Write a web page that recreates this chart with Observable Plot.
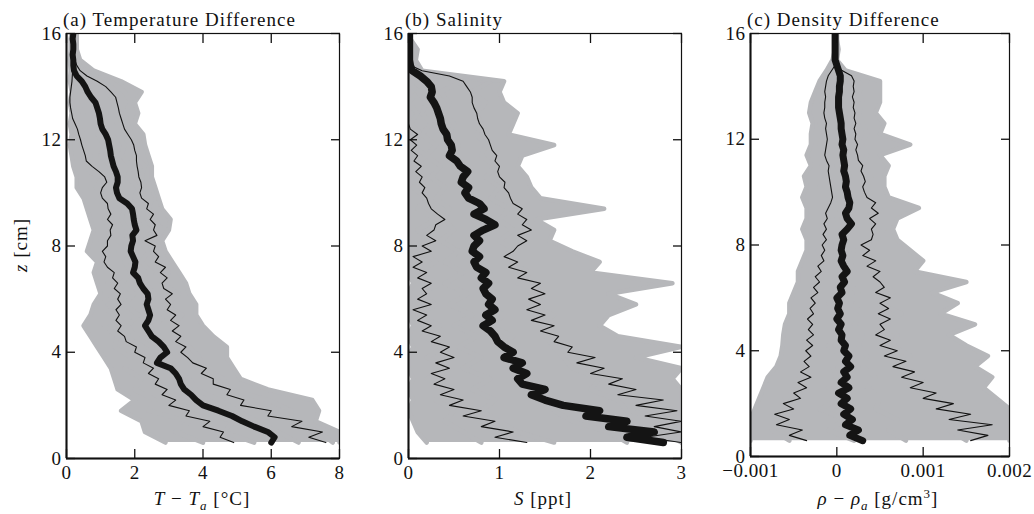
<!DOCTYPE html>
<html><head><meta charset="utf-8">
<script src="https://cdn.jsdelivr.net/npm/d3@7"></script>
<script src="https://cdn.jsdelivr.net/npm/@observablehq/plot@0.6"></script>
<style>
body{margin:0;background:#fff;}
#wrap{position:relative;width:1034px;height:514px;font-family:"Liberation Serif",serif;color:#111;overflow:hidden;}
.panel{position:absolute;top:0;letter-spacing:0.5px;}
.txt{position:absolute;font-size:19px;line-height:1;white-space:nowrap;letter-spacing:1px;}
.ctr{transform:translateX(-50%);}
sub,sup{font-size:13px;line-height:0;}
</style></head><body><div id="wrap"></div>
<script>
// depth grids (cm)
const zFine = [0.6,0.8,1.0,1.2,1.4,1.6,1.8,2.0,2.2,2.4,
 2.6,2.8,3.0,3.2,3.4,3.6,3.8,4.0,4.2,4.4,
 4.6,4.8,5.0,5.2,5.4,5.6,5.8,6.0,6.2,6.4,
 6.6,6.8,7.0,7.2,7.4,7.6,7.8,8.0,8.2,8.4,
 8.6,8.8,9.0,9.2,9.4,9.6,9.8,10.0,10.2,10.4,
 10.6,10.8,11.0,11.2,11.4,11.6,11.8,12.0,12.2,12.4,
 12.6,12.8,13.0,13.2,13.4,13.6,13.8,14.0,14.2,14.4,
 14.6,14.8,15.0,15.2,15.4,15.6,15.8,16.0];
const zCoarse = [0.6,1.0,1.4,1.8,2.2,2.6,3.0,3.4,3.8,4.2,
 4.6,5.0,5.4,5.8,6.2,6.6,7.0,7.4,7.8,8.2,
 8.6,9.0,9.4,9.8,10.2,10.6,11.0,11.4,11.8,12.2,
 12.6,13.0,13.4,13.8,14.2,14.6,15.0,15.4,15.8,16.0];

// (a) temperature difference, °C
const tempMean = [6.0,6.1,5.9,5.5,5.15,4.85,4.45,4.0,3.8,3.65,
 3.45,3.35,3.3,3.2,3.05,2.65,2.75,2.95,2.85,2.7,
 2.5,2.4,2.3,2.4,2.45,2.4,2.35,2.4,2.38,2.25,
 2.15,2.1,1.95,2.0,2.02,1.95,1.88,1.9,1.95,1.93,
 2.05,2.0,1.97,1.95,1.92,1.78,1.55,1.48,1.45,1.5,
 1.5,1.45,1.38,1.34,1.3,1.28,1.25,1.22,1.15,1.05,
 1.0,0.98,0.95,0.9,0.85,0.72,0.62,0.55,0.45,0.3,
 0.22,0.2,0.2,0.18,0.2,0.2,0.18,0.2];
const tempHi = [7.6,7.1,7.5,6.6,6.9,5.9,6.0,5.1,5.2,4.7,
 4.8,4.3,4.3,3.95,4.1,3.7,3.55,3.35,3.5,3.2,
 3.35,3.1,3.3,3.05,3.2,2.95,3.05,2.9,3.1,2.85,
 2.8,2.95,2.75,2.9,2.6,2.7,2.55,2.6,2.3,2.65,
 2.55,2.6,2.45,2.55,2.35,2.4,2.2,2.15,2.2,2.18,
 2.12,2.1,2.07,2.05,2.05,2.0,1.97,1.9,1.8,1.7,
 1.65,1.6,1.55,1.52,1.48,1.44,1.3,1.15,0.9,0.6,
 0.4,0.3,0.25,0.22,0.2,0.2,0.2,0.2];
const tempLo = [4.9,4.5,4.6,4.0,4.2,3.5,3.6,3.0,3.2,2.8,
 2.95,2.6,2.7,2.4,2.55,2.25,2.3,2.0,2.05,1.75,
 1.7,1.5,1.6,1.45,1.55,1.45,1.6,1.5,1.58,1.4,
 1.5,1.35,1.4,1.2,1.1,1.15,1.05,1.2,1.2,1.3,
 1.28,1.35,1.2,1.3,1.22,1.2,1.05,1.0,1.05,1.18,
 1.12,0.95,0.75,0.58,0.55,0.5,0.45,0.41,0.36,0.32,
 0.25,0.18,0.15,0.12,0.1,0.1,0.12,0.14,0.16,0.17,
 0.18,0.2,0.2,0.2,0.2,0.2,0.2,0.2];
const tempGray = [
 [2.9,2.3,2.2,1.6,2.0,1.5,1.4,1.3,1.1,0.9, 0.7,0.5,0.7,0.8,1.0,0.9,0.8,0.9,0.6,0.7, 0.8,0.7,0.6,0.5,0.3,0.3,0.2,0.15,0.1,0.15, 0.1,0.15,0.1,0.15,0.1,0.12,0.1,0.12,0.12,0.15],
 [4.0,3.2,3.6,2.4,2.6,2.0,2.2,1.7,1.9,1.4, 1.5,1.1,1.4,1.0,1.5,1.2,1.5,1.1,1.4,1.0, 1.3,1.1,1.3,0.9,0.7,0.9,0.5,0.7,0.4,0.5, 0.3,0.5,0.3,0.4,0.25,0.15,0.15,0.2,0.15,0.2],
 [5.5,4.6,4.9,3.8,3.5,2.9,2.6,2.4,2.2,2.5, 2.0,1.8,2.1,1.7,2.0,1.6,1.9,1.7,1.9,1.5, 1.8,1.6,1.7,1.3,1.5,1.2,1.3,1.0,1.1,0.9, 1.0,0.8,0.9,0.7,0.5,0.25,0.2,0.2,0.18,0.2],
 [6.8,6.2,5.6,5.0,4.5,3.8,3.6,3.1,3.3,2.9, 2.7,2.6,2.9,2.4,2.6,2.3,2.5,2.2,2.4,2.1, 2.4,2.2,2.3,2.0,2.1,1.8,1.9,1.6,1.7,1.5, 1.5,1.3,1.4,1.2,1.0,0.5,0.25,0.2,0.25,0.2],
 [7.8,7.4,6.6,6.6,5.9,4.8,4.6,4.0,3.9,3.6, 3.3,3.1,3.4,2.9,3.3,2.8,3.0,2.7,2.5,2.6, 2.8,2.6,2.4,2.5,2.3,2.2,2.3,2.0,2.1,1.9, 1.8,1.7,1.9,1.7,1.3,0.7,0.3,0.25,0.2,0.25],
 [8.0,8.0,7.3,7.4,7.2,5.9,5.1,4.9,4.7,4.7, 4.3,4.0,3.8,3.8,3.6,3.5,3.3,3.1,2.9,2.8, 3.0,3.05,2.8,2.7,2.6,2.5,2.5,2.4,2.3,2.25, 2.0,2.1,2.0,2.2,1.6,0.8,0.4,0.3,0.3,0.3]
];

// (b) salinity, ppt
const salMean = [2.8,2.4,2.7,2.2,2.4,1.95,2.1,1.7,1.5,1.35,
 1.5,1.25,1.2,1.3,1.15,1.25,1.05,1.15,1.05,0.98,
 0.95,0.9,0.82,0.92,0.85,0.95,0.88,0.92,0.85,0.82,
 0.88,0.8,0.85,0.75,0.72,0.78,0.7,0.72,0.78,0.72,
 0.82,0.95,0.85,0.72,0.83,0.78,0.66,0.62,0.66,0.58,
 0.6,0.65,0.57,0.53,0.45,0.48,0.47,0.43,0.42,0.38,
 0.36,0.35,0.33,0.31,0.28,0.24,0.26,0.25,0.2,0.13,
 0.04,0.02,0.01,0.01,0.01,0.01,0.01,0.01];
const salHi = [3.0,2.6,3.0,2.7,3.0,2.6,2.95,2.5,2.8,2.3,
 2.5,2.2,2.35,2.0,2.15,1.85,2.05,1.75,1.8,1.6,
 1.65,1.45,1.6,1.35,1.5,1.3,1.45,1.32,1.5,1.35,
 1.45,1.2,1.3,1.1,1.2,1.05,1.15,1.2,1.3,1.2,
 1.35,1.25,1.3,1.2,1.25,1.15,1.12,1.1,1.05,1.06,
 1.0,0.98,1.0,0.95,0.97,0.92,0.9,0.88,0.84,0.82,
 0.78,0.76,0.75,0.72,0.7,0.7,0.68,0.64,0.6,0.45,
 0.15,0.02,0.01,0.01,0.01,0.01,0.01,0.01];
const salLo = [1.3,0.95,1.15,0.8,0.95,0.6,0.8,0.45,0.6,0.35,
 0.5,0.28,0.4,0.25,0.45,0.3,0.5,0.35,0.45,0.25,
 0.35,0.15,0.25,0.1,0.2,0.05,0.25,0.1,0.2,0.15,
 0.25,0.1,0.2,0.05,0.15,0.05,0.25,0.15,0.3,0.2,
 0.28,0.3,0.4,0.32,0.25,0.22,0.2,0.15,0.18,0.12,
 0.15,0.08,0.14,0.06,0.1,0.03,0.09,0.02,0.1,0.02,
 0,0,0,0,0,0,0,0,0,0,
 0,0,0,0,0,0,0,0];
const salGray = [
 [0.2,0.1,0.05,0,0.05,0,0.05,0,0,0.05, 0,0.05,0,0.02,0,0.05,0,0,0.02,0, 0,0,0,0,0,0,0,0,0,0, 0,0,0,0,0,0,0,0.05,0,0],
 [0.8,0.6,0.4,0.5,0.3,0.5,0.2,0.45,0.2,0.4, 0.15,0.35,0.1,0.3,0.15,0.35,0.1,0.3,0.15,0.25, 0.1,0.3,0.1,0.2,0.05,0.25,0.05,0.2,0.02,0.15, 0.02,0.1,0,0.1,0,0,0,0,0,0],
 [1.6,1.2,1.0,0.8,0.95,0.7,0.9,0.6,0.8,0.55, 0.75,0.5,0.7,0.45,0.65,0.4,0.6,0.4,0.55,0.35, 0.5,0.4,0.45,0.3,0.4,0.25,0.35,0.2,0.3,0.15, 0.25,0.15,0.2,0.1,0.3,0,0,0,0,0],
 [2.4,2.2,1.8,1.6,1.5,1.3,1.4,1.1,1.25,1.0, 1.15,0.9,1.05,0.85,1.0,0.75,0.9,0.7,0.85,0.65, 0.8,0.7,0.75,0.6,0.7,0.55,0.6,0.5,0.55,0.45, 0.5,0.4,0.45,0.35,0.6,0.05,0,0,0,0],
 [3.0,2.8,3.0,2.4,2.3,2.0,2.1,1.8,1.7,1.6, 1.5,1.45,1.6,1.3,1.5,1.2,1.35,1.05,1.2,1.0, 1.15,1.0,1.1,0.9,1.0,0.85,0.95,0.8,0.85,0.75, 0.8,0.75,0.85,0.7,0.9,0.1,0.02,0.05,0,0],
 [3.0,3.0,3.0,3.0,3.0,3.0,2.9,3.0,2.5,3.0, 2.3,2.1,2.2,2.5,2.2,2.9,2.0,2.1,1.8,1.55, 1.6,1.4,2.15,1.45,1.35,1.3,1.2,1.25,1.6,1.1, 1.15,1.2,1.05,1.0,1.05,0.15,0.08,0.1,0.02,0]
];

// (c) density difference, in units of 0.001 g/cm^3
const rhoMean = [0.3,0.15,0.25,0.1,0.18,0.08,0.16,0.05,0.12,0.02,
 0.14,0.05,0.12,0.08,0.16,0.1,0.14,0.08,0.1,0.05,
 0.06,0.02,0.05,0.0,0.04,0.01,0.03,0.0,0.06,0.04,
 0.09,0.06,0.12,0.08,0.05,0.07,0.05,0.06,0.08,0.06,
 0.12,0.17,0.12,0.1,0.14,0.15,0.13,0.12,0.1,0.11,
 0.1,0.08,0.09,0.08,0.07,0.08,0.06,0.07,0.06,0.05,
 0.05,0.04,0.03,0.02,0.02,0.02,0.03,0.03,0.04,0.04,
 0.02,0.0,-0.02,-0.02,-0.02,-0.02,-0.02,-0.02];
const rhoHi = [1.55,1.75,1.4,1.8,1.3,1.55,1.15,1.35,1.0,1.15,
 0.85,1.0,0.75,0.9,0.65,0.8,0.55,0.7,0.5,0.62,
 0.45,0.55,0.5,0.62,0.48,0.6,0.5,0.62,0.45,0.55,
 0.5,0.42,0.5,0.35,0.45,0.3,0.38,0.28,0.4,0.42,
 0.4,0.45,0.38,0.48,0.4,0.45,0.35,0.32,0.3,0.33,
 0.31,0.28,0.3,0.25,0.24,0.22,0.24,0.21,0.22,0.2,
 0.22,0.2,0.21,0.19,0.2,0.18,0.2,0.19,0.2,0.17,
 0.06,0.0,-0.01,-0.01,-0.01,-0.01,-0.01,-0.01];
const rhoLo = [-0.35,-0.55,-0.4,-0.7,-0.55,-0.72,-0.5,-0.62,-0.42,-0.5,
 -0.35,-0.45,-0.3,-0.42,-0.32,-0.38,-0.3,-0.36,-0.28,-0.35,
 -0.27,-0.33,-0.28,-0.34,-0.27,-0.31,-0.25,-0.3,-0.22,-0.27,
 -0.2,-0.25,-0.18,-0.22,-0.15,-0.18,-0.14,-0.17,-0.12,-0.16,
 -0.12,-0.15,-0.11,-0.13,-0.1,-0.07,-0.05,-0.06,-0.07,-0.08,
 -0.09,-0.1,-0.09,-0.12,-0.14,-0.13,-0.12,-0.11,-0.12,-0.13,
 -0.12,-0.14,-0.15,-0.14,-0.14,-0.13,-0.14,-0.13,-0.12,-0.1,
 -0.06,-0.02,-0.02,-0.02,-0.02,-0.02,-0.02,-0.02];
const rhoGray = [
 [-1.0,-1.0,-1.0,-0.95,-0.9,-0.85,-0.8,-0.7,-0.65,-0.63, -0.62,-0.6,-0.55,-0.55,-0.5,-0.45,-0.45,-0.4,-0.35,-0.35, -0.4,-0.35,-0.35,-0.4,-0.35,-0.38,-0.3,-0.35,-0.3,-0.3, -0.28,-0.32,-0.3,-0.25,-0.2,-0.12,-0.05,-0.02,-0.02,-0.02],
 [-0.55,-0.75,-0.6,-0.5,-0.6,-0.45,-0.5,-0.35,-0.45,-0.3, -0.4,-0.3,-0.38,-0.25,-0.3,-0.2,-0.25,-0.15,-0.22,-0.12, -0.18,-0.1,-0.15,-0.08,-0.2,-0.12,-0.18,-0.1,-0.2,-0.15, -0.2,-0.12,-0.18,-0.1,-0.15,-0.05,-0.02,0,-0.02,-0.02],
 [0.2,-0.1,0.1,-0.2,0.05,-0.1,0,-0.05,0.05,-0.1, 0,-0.05,0.05,-0.1,0.02,-0.05,0.05,0,0.02,-0.02, 0.05,0,0.05,0.02,0,0.04,0,0.05,0,0.02, 0,0.02,0,0.02,0.05,0,-0.02,-0.02,0,0],
 [0.8,0.6,0.7,0.45,0.5,0.35,0.45,0.3,0.35,0.25, 0.3,0.2,0.3,0.15,0.25,0.1,0.2,0.15,0.2,0.1, 0.2,0.25,0.15,0.2,0.1,0.15,0.1,0.12,0.08,0.1, 0.08,0.1,0.06,0.08,0.1,0.02,0,0,0,0],
 [1.5,1.3,1.4,1.1,1.2,0.9,1.0,0.75,0.85,0.65, 0.7,0.55,0.75,0.5,0.65,0.55,0.45,0.5,0.4,0.45, 0.55,0.45,0.5,0.4,0.35,0.4,0.3,0.35,0.28,0.35, 0.3,0.25,0.3,0.25,0.35,0.05,0,0,0,0],
 [2.0,2.0,2.0,2.0,1.85,1.7,1.8,1.6,1.75,1.5, 1.3,1.6,1.2,1.4,1.1,1.5,0.9,1.0,0.85,0.7, 0.65,0.7,0.95,0.6,0.55,0.55,0.6,0.5,0.85,0.5, 0.55,0.45,0.5,0.5,0.5,0.1,0,0.02,0,0]
];

// axes
const zTicks = [0,4,8,12,16];
const tempTicks = [0,2,4,6,8];
const salTicks = [0,1,2,3];
const rhoTicks = [-0.001,0,0.001,0.002];
const rhoTickLabels = ["\u22120.001","0","0.001","0.002"];

const GRAY = "#b6b7ba";
const FONT = '"Liberation Serif", serif';

function rows(zs, vals, k, id) { return vals.map((v, i) => ({z: zs[i], v: v * k, id})); }

function panel(o) {
  const k = o.k ?? 1;
  const grayRows = o.gray.flatMap((g, j) => rows(zCoarse, g, k, j));
  // envelope of the gray profiles at each depth
  const envRows = zCoarse.map((z, i) => ({
    z,
    lo: d3.min(o.gray, g => g[i]) * k,
    hi: d3.max(o.gray, g => g[i]) * k
  }));
  const fmt = o.labels ? (d => o.labels[o.ticks.indexOf(d)]) : (d => String(d));
  const fs = 19;
  const p = Plot.plot({
    width: o.width, height: 514,
    marginTop: 33, marginBottom: o.mb, marginLeft: o.ml, marginRight: o.mr,
    x: {domain: o.domain},
    y: {domain: [0, 16]},
    style: {fontFamily: FONT, fontSize: fs + "px", color: "#111", background: "transparent", overflow: "visible"},
    marks: [
      Plot.areaX(envRows, {y: "z", x1: "lo", x2: "hi", fill: GRAY, clip: true}),
      Plot.line(grayRows, {x: "v", y: "z", z: "id", stroke: GRAY, strokeWidth: 4.5, strokeLinejoin: "round", strokeLinecap: "round", clip: true}),
      Plot.line(rows(zFine, o.lo, k, "lo"), {x: "v", y: "z", stroke: "#111", strokeWidth: 1.1, clip: true}),
      Plot.line(rows(zFine, o.hi, k, "hi"), {x: "v", y: "z", stroke: "#111", strokeWidth: 1.1, clip: true}),
      Plot.line(rows(zFine, o.mean, k, "m"), {x: "v", y: "z", stroke: "#141414", strokeWidth: o.mw, strokeLinejoin: "round", strokeLinecap: "round", clip: true}),
      Plot.frame({stroke: "#111", strokeWidth: 1.2}),
      Plot.ruleY([0], {stroke: "#111", strokeWidth: 2}),
      Plot.ruleX([o.domain[0]], {stroke: "#111", strokeWidth: 2}),
      Plot.axisX({anchor: "bottom", ticks: o.ticks, tickSize: -9, tickFormat: () => "", label: null, strokeWidth: 1.3}),
      Plot.axisX({anchor: "top", ticks: o.ticks, tickSize: -9, tickFormat: () => "", label: null, strokeWidth: 1.3}),
      Plot.axisX({anchor: "bottom", ticks: o.ticks, tickSize: 0, tickPadding: 7, tickFormat: fmt, label: null, fontSize: fs}),
      Plot.axisY({anchor: "left", ticks: zTicks, tickSize: -9, tickFormat: () => "", label: null, strokeWidth: 1.3}),
      Plot.axisY({anchor: "right", ticks: zTicks, tickSize: -9, tickFormat: () => "", label: null, strokeWidth: 1.3}),
      Plot.axisY({anchor: "left", ticks: zTicks, tickSize: 0, tickPadding: 5, tickFormat: d => String(d), label: null, fontSize: fs})
    ]
  });
  p.classList.add("panel");
  p.style.left = o.left + "px";
  return p;
}

const wrap = document.getElementById("wrap");
wrap.appendChild(panel({left: 0, width: 345, ml: 66, mr: 6, mb: 56, domain: [0, 8], ticks: tempTicks,
  gray: tempGray, lo: tempLo, hi: tempHi, mean: tempMean, mw: 6}));
wrap.appendChild(panel({left: 345, width: 340, ml: 63, mr: 4, mb: 56, domain: [0, 3], ticks: salTicks,
  gray: salGray, lo: salLo, hi: salHi, mean: salMean, mw: 7.5}));
wrap.appendChild(panel({left: 690, width: 344, ml: 60, mr: 25, mb: 58, domain: [-0.001, 0.002], ticks: rhoTicks, labels: rhoTickLabels, k: 0.001,
  gray: rhoGray, lo: rhoLo, hi: rhoHi, mean: rhoMean, mw: 7}));

const texts = [
  {html: "(a) Temperature Difference", x: 63, y: 10},
  {html: "(b) Salinity", x: 405, y: 10},
  {html: "(c) Density Difference", x: 747, y: 10},
  {html: "<i>T</i> \u2212 <i>T<sub>a</sub></i> [\u00b0C]", x: 202, y: 489, c: true},
  {html: "<i>S</i> [ppt]", x: 543, y: 489, c: true},
  {html: "<i>\u03c1</i> \u2212 <i>\u03c1<sub>a</sub></i> [g/cm<sup>3</sup>]", x: 878, y: 489, c: true}
];
for (const t of texts) {
  const d = document.createElement("div");
  d.className = "txt" + (t.c ? " ctr" : "");
  d.innerHTML = t.html;
  d.style.left = t.x + "px"; d.style.top = t.y + "px";
  wrap.appendChild(d);
}
const yl = document.createElement("div");
yl.className = "txt";
yl.innerHTML = "<i>z</i> [cm]";
yl.style.left = "20px"; yl.style.top = "245px";
yl.style.transform = "translate(-50%,-50%) rotate(-90deg)";
wrap.appendChild(yl);
</script>
</body></html>
